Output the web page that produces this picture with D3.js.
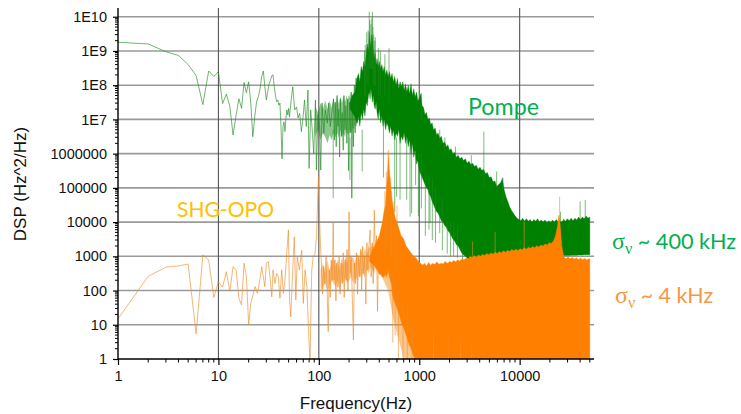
<!DOCTYPE html>
<html><head><meta charset="utf-8">
<script src="https://cdn.jsdelivr.net/npm/d3@7"></script>
<style>body{margin:0;background:#fff}svg{display:block}</style>
</head><body>
<svg id="c" width="741" height="414"></svg>
<script>
// ---------- ticks ----------
const xTicks = [1, 10, 100, 1000, 10000];
const xTickLabels = ["1", "10", "100", "1000", "10000"];
const yTicks = [1, 10, 100, 1000, 1e4, 1e5, 1e6, 1e7, 1e8, 1e9, 1e10];
const yTickLabels = ["1", "10", "100", "1000", "10000", "100000", "1000000", "1E7", "1E8", "1E9", "1E10"];

// ---------- Pompe (green) : [frequency Hz, DSP] ----------
const greenTrace = [
 [1,1.8e9],[2,1.6e9],[3,9.5e8],[4,7.4e8],[5,4e8],[6,1.9e8],[7,2.7e7],[8,2.6e8],[9,1.8e8],[10,2.5e8],
 [11,2.9e7],[12,5.5e7],[13,2.4e7],[14,3.5e6],[15,1.35e7],[16,4e7],[17,2.1e7],[18,1.2e8],[19,6e7],[20,1.25e8],
 [21,3e7],[22,3.1e6],[23,1.2e7],[24,3.3e7],[25,4.6e7],[26,8e7],[27,1.8e8],[28,2.6e8],[29,9e7],[30,3.7e7],
 [31,6.5e7],[32,1.1e8],[33,1.4e8],[34,1.9e8],[35,2e8],[36,9e7],[37,5.1e7],[38,3.3e7],[39,3.7e7],[40,2.6e7],
 [41,3e7],[42,6.2e6],[43,7e5],[44,6.2e6],[45,8.5e6],[46,4.4e6],[47,1.1e7],[48,1.9e7],[49,1.35e7],[50,2.1e7],
 [51,1.2e7],[53,3.7e7],[55,9e7],[57.5,1.9e7],[60,2.3e7],[62,1.1e7],[64.5,1.5e7],[67,4.4e6],[70,1.35e7],[72,3.7e7],
 [75,6.2e6],[78,7.2e7],[80,3.7e5],[83,1.9e7],[85.5,6.2e6],[89,1e6],[92.5,3.7e7],[94.6,3.3e5],[98,1.35e7],[102,6.2e6],
 [104.5,3.3e5],[107.7,3e7],[112,3.9e6],[116,1.9e7],[121.6,7.8e6],[125,3e7],[130,6.2e6],[136,1.9e7],[140,4e7],[143,2.5e6],
 [146,3.2e7],[149,1.6e6],[152,5e7],[155,6.3e6],[158,2e7],[161,8e5],[164,4e7],[168,3.2e6],[171,1.6e7],[175,1.26e6],
 [178,5e7],[182,5e6],[186,2.5e7],[190,2e6],[194,4e7],[198,3.2e5],[202,3.2e7],[206,4e6],[210,6.3e7],[213,5e4],
 [217,2.5e7],[221,1.6e6],[226,1e8],[230,4e6],[235,1.6e8],[240,8e6],[245,1.26e8],[250,1e7]
];
// semi-dense tangle: [frequency, upper, lower]
const greenCore = [
 [92,2.5e7,3e6],[98,1.6e7,5e6],[104,3e7,2.5e6],[110,2e7,4e6],[116,3.5e7,3e6],[122,2e7,2e6],[128,3.5e7,3.5e6],
 [134,2.2e7,2.5e6],[140,4e7,4e6],[146,2.5e7,3e6],[152,4.5e7,4e6],[158,2.8e7,3e6],[164,4.5e7,5e6],[170,3e7,3e6],
 [176,5e7,4e6],[182,3e7,3e6],[188,5e7,5e6],[194,3.5e7,3.5e6],[200,5.5e7,4e6],[206,4e7,5e6],[212,6e7,4e6],
 [218,4.5e7,6e6],[224,7e7,5e6],[230,5e7,7e6],[236,9e7,6e6],[242,8e7,8e6]
];
// dense part: [frequency, upper, lower]
const greenBand = [
 [205,3e7,2e7],[215,5e7,1.6e7],[228,6e7,1.2e7],
 [240,1.6e8,7.9e6],[248,2.2e8,1.26e7],[256,1.26e8,6.3e6],[264,3.5e8,1.6e7],[272,2.5e8,1e7],[280,5e8,2e7],
 [288,3.5e8,1.26e7],[296,8e8,3.2e7],[304,1.6e9,2.5e7],[312,1e9,5e7],[318,3.5e9,6.3e7],[324,2e9,4e7],
 [330,1.3e9,7.9e7],[336,3e9,5e7],[342,2.5e9,3.2e7],[348,1.2e9,5e7],[356,6e8,2.5e7],[364,9e8,2e7],
 [372,4e8,3.2e7],[380,6e8,1.6e7],[390,3.5e8,1e7],[400,5e8,2e7],[412,3e8,7.9e6],[424,4e8,1.26e7],
 [436,2.5e8,6.3e6],[448,3.5e8,1e7],[462,2e8,5e6],[476,2.8e8,7.9e6],[490,1.8e8,6.3e6],[505,2.5e8,4e6],
 [520,1.6e8,6.3e6],[536,2.2e8,3.2e6],[552,1.26e8,5e6],[570,1.8e8,2.5e6],[588,1e8,4e6],[606,1.6e8,3.2e6],
 [625,7.9e7,5e6],[645,1.26e8,2e6],[665,8.9e7,3.2e6],[686,1.26e8,2.5e6],[708,7.1e7,4e6],[730,1.1e8,2e6],
 [753,6.3e7,3.2e6],[777,1e8,1.6e6],[802,5.6e7,2.5e6],[828,1.1e8,1e6],[855,5e7,2e6],[882,7.9e7,7.9e5],
 [910,4.5e7,1.26e6],[940,6.3e7,5e5],[970,3.5e7,6.3e5],[1000,4e7,3.2e5],[1035,5.6e7,2.5e5],[1070,2.5e7,2e5],
 [1105,2.2e7,1.6e5],[1140,1.4e7,1.26e5],[1180,1.6e7,1e5],[1220,1e7,8.9e4],[1260,1.1e7,6.3e4],[1300,7.1e6,5.6e4],
 [1345,7.9e6,4e4],[1390,5e6,3.2e4],[1440,5.6e6,2.5e4],[1490,3.5e6,2e4],[1540,4e6,1.8e4],[1600,2.8e6,1.4e4],
 [1660,3.2e6,1.1e4],[1720,2e6,1e4],[1790,2.2e6,7.9e3],[1860,1.6e6,7.1e3],[1930,1.8e6,5.6e3],[2000,1.26e6,5e3],
 [2080,1.4e6,4e3],[2160,1e6,3.2e3],[2250,1.1e6,2.8e3],[2340,7.9e5,2.2e3],[2440,8.9e5,2e3],[2540,7.1e5,1.6e3],
 [2650,7.9e5,1.26e3],[2760,6.3e5,1.1e3],[2880,7.1e5,1e3],[3000,5.2e5,890],[3130,6e5,800],[3260,4.8e5,800],
 [3400,5.2e5,700],[3550,4.2e5,700],[3700,4.6e5,700],[3860,3.5e5,700],[4030,4e5,700],[4200,3.2e5,700],
 [4380,3.5e5,700],[4570,2.6e5,700],[4770,2.8e5,700],[4980,2e5,700],[5200,2.1e5,700],[5430,1.5e5,700],
 [5670,1.6e5,700],[5920,1.1e5,700],[6180,1.26e5,700],[6450,1.4e5,700],[6730,1.9e5,700],[7000,8.9e4,700],
 [7300,5.6e4,700],[7620,4e4,800],[7950,2.8e4,800],[8300,2.2e4,900],[8660,1.8e4,900],[9040,1.5e4,1000],
 [9430,1.3e4,1000],[9840,1.2e4,1000],[10270,1.1e4,1000],[10720,1.3e4,1000],[11190,1.05e4,1000],[11680,1.25e4,1000],
 [12190,1.05e4,1000],[12720,1.2e4,1000],[13270,1e4,1000],[13850,1.2e4,1000],[14460,1.05e4,1000],[15090,1.25e4,1000],
 [15750,1.02e4,1000],[16440,1.15e4,1000],[17160,1e4,1000],[17910,1.15e4,1000],[18690,9.5e3,1000],[19510,1.1e4,1000],
 [20360,9.8e3,1000],[21250,1.15e4,1000],[22180,1e4,1000],[23150,1.2e4,1000],[24160,1e4,1000],[25210,1.1e4,1000],
 [26310,1e4,1050],[27460,1.2e4,1050],[28660,1.05e4,1050],[29910,1.25e4,1050],[31220,1.1e4,1050],[32580,1.3e4,1070],
 [34000,1.1e4,1070],[35490,1.3e4,1070],[37040,1.15e4,1070],[38660,1.4e4,1100],[40350,1.2e4,1100],[42110,1.4e4,1100],
 [43950,1.25e4,1120],[45870,1.5e4,1120],[47870,1.3e4,1120],[50000,1.4e4,1120]
];
// isolated spikes: [frequency, from, to]
const greenSpikes = [
 [285,5e7,1e9],[290,5e7,1.5e9],[300,1e8,3.5e9],[310,1e8,4e9],[318,3e8,1.4e10],[322,3e8,8e9],[330,3e8,6e9],
 [336,3e8,9e9],[342,3e8,1.4e10],[346,3e8,5e9],[352,1e8,3e9],[360,1e8,2e9],[365,1e8,2.5e9],[392,5e7,1.2e9],
 [410,5e7,1e9],[455,5e7,8e8],[500,3e7,1.2e9],[1050,1e7,5.8e7],[1600,2e6,5e6],[1800,1e6,3e6],[2300,7e5,1.6e6],
 [3300,4e5,9e5],[4400,1e5,4.4e6],[5900,1e5,3e5],[6800,3e4,2e5],[11000,5e3,1.15e4],[25500,1e4,2e4],
 [40000,1e4,4e4],[45000,1e4,4.4e4],[139,5e6,5e4],[204,3e6,1.7e5],[270,5e6,3e5],[440,1e7,2e5],[570,3e6,2e4],
 [595,3e6,5.5e4],[644,3e6,4.5e4],[750,3e6,4.5e4],[810,2e6,1.45e4],[840,2e6,1.8e4],[920,1e6,1.2e5],[980,1e6,1.5e4],
 [1050,1e6,2.5e4],[1150,3e5,4e3],[1250,2e5,6e3],[1280,6e4,9.3e3],[1350,2e5,3e3],[1450,1e5,2.5e3],[1600,2e4,4.7e3],
 [1700,5e4,1.5e3],[1900,1e4,1.2e3],[2050,1e4,1e3],[2200,1e4,1e3],[2400,8e3,900],[2700,2e3,630]
];

// ---------- SHG-OPO (orange) ----------
const orangeTrace = [
 [1,15],[2,260],[3,480],[4,525],[5,590],[6,5.4],[7,1100],[8,780],[9,63],[10,180],
 [11,125],[12,355],[13,95],[14,500],[15,400],[16,59],[17,38],[18,630],[19,250],[20,10],
 [21,42],[22.3,83],[23.2,130],[24.5,83],[26,230],[27,500],[28,250],[29,130],[30,630],[31.4,700],
 [32.6,250],[34,66],[35,400],[36.6,160],[38,320],[39.5,250],[41,60],[42.7,400],[44.3,83],[46,200],
 [47.9,1200],[49.8,5900],[51,66],[52.5,17],[55,400],[57,3700],[59,53],[61,980],[64,400],[67.5,1500],
 [70,42],[73,400],[76,130],[78.7,8.7],[81.7,0.8],[85,400],[88,980],[91.6,1200],[95,4200],[99,2.1e5],
 [103,4000],[106,630],[109,79],[112,500],[115,160],[118,1000],[121,100],[124,6.3],[127,400],[130,63],
 [133,790],[136,200],[139,1e4],[142,200],[145,790],[148,50],[151,630],[155,126],[159,1000],[163,79],
 [167,630],[171,160],[175,1260],[179,63],[183,790],[187,200],[191,1600],[195,100],[200,2e4],[205,320],
 [210,1000],[215,79],[221,3.6],[226,630],[231,160],[237,1260],[243,79],[249,1000],[255,250],[261,1600],
 [267,100],[273,2000],[280,320],[287,1000],[294,40],[301,2500],[308,400],[316,2000],[324,5900],[332,250],
 [340,2500],[348,160],[357,2.2e4],[366,630],[375,4000],[384,25],[394,3200],[404,400]
];
const orangeCore = [
 [104,400,100],[110,630,126],[116,320,160],[122,790,100],[128,400,126],[134,630,200],[140,1000,160],
 [147,500,126],[154,790,200],[161,400,100],[168,890,200],[176,500,160],[184,1000,250],[192,630,160],
 [200,1260,200],[210,790,250],[220,1000,160],[230,630,250],[240,1260,200],[252,790,320],[264,1580,250],
 [276,1000,320],[288,1780,250],[300,1120,400],[314,2000,320],[328,1580,500],[342,2500,400],[356,1780,320],
 [370,3200,500],[385,2000,400],[402,4000,320],[440,1e4,200],[490,3e4,100],[540,1e4,20],[580,2000,8],
 [620,1000,4],[660,800,2],[700,600,1],[750,500,0.6],[800,400,0.5],[860,300,0.5],[930,200,0.5],[1000,100,0.5]
];
const orangeBand = [
 [320,900,700],[340,1500,600],[360,2000,500],[380,2800,400],
 [400,4000,300],[415,6300,300],[430,1e4,250],[445,2e4,250],[460,3e4,300],[470,8e4,250],[480,2e5,300],
 [487,5e5,320],[492,1.26e6,400],[498,6e5,300],[505,3e5,250],[515,1.5e5,200],[528,6e4,150],[540,4e4,80],
 [560,2e4,50],[580,1.26e4,40],[600,1e4,30],[630,6300,20],[660,4000,12],[700,3200,8],[740,2000,5],
 [780,1600,3],[830,1260,2],[880,1000,1.2],[930,890,0.8],[980,710,0.5],[1030,630,0.3],[1080,560,0.3],
 [1130,630,0.3],[1180,525,0.3],[1240,660,0.3],[1300,550,0.3],[1360,630,0.3],[1395,600,0.3],[1400,580,12],
 [1405,600,0.3],[1430,575,0.3],[1500,690,0.3],[1570,590,0.3],[1650,630,0.3],[1730,600,0.3],[1810,710,0.3],
 [1900,630,0.3],[1945,650,0.3],[1950,650,8],[1955,650,0.3],[2000,720,0.3],[2100,660,0.3],[2200,760,0.3],
 [2310,690,0.3],[2420,790,0.3],[2540,720,0.3],[2590,800,0.3],[2600,800,6],[2610,800,0.3],[2660,830,0.3],
 [2790,790,0.3],[2930,890,0.3],[3070,830,0.3],[3220,1000,0.3],[3290,950,0.3],[3300,950,5],[3310,950,0.3],
 [3380,910,0.3],[3540,1050,0.3],[3710,950,0.3],[3890,1100,0.3],[4080,1000,0.3],[4280,1150,0.3],[4490,1050,0.3],
 [4710,1200,0.3],[4940,1120,0.3],[5180,1260,0.3],[5430,1150,0.3],[5700,1320,0.3],[5980,1200,0.3],[6000,1200,4],
 [6020,1200,0.3],[6270,1380,0.3],[6580,1260,0.3],[6900,1450,0.3],[7240,1320,0.3],[7590,1510,0.3],[7960,1380,0.3],
 [8350,1580,0.3],[8760,1450,0.3],[9190,1620,0.3],[9640,1480,0.3],[10110,1660,0.3],[10600,1550,0.3],[11120,1780,0.3],
 [11660,1620,0.3],[12230,1860,0.3],[12830,1700,0.3],[13460,1950,0.3],[14120,1780,0.3],[14810,2040,0.3],[15530,1860,0.3],
 [16290,2140,0.3],[17090,2000,0.3],[17920,2290,0.3],[18800,2140,0.3],[19720,2500,0.3],[20690,2400,0.3],[21700,2800,0.3],
 [22760,4000,0.3],[23870,7900,0.3],[24500,1.6e4,0.3],[25040,1.26e4,0.3],[25700,5000,0.3],[26270,2000,0.3],[27560,950,0.3],
 [28900,870,0.3],[30320,950,0.3],[31800,850,0.3],[33360,930,0.3],[35000,830,0.3],[36710,910,0.3],[38500,810,0.3],
 [40390,890,0.3],[42360,790,0.3],[44430,870,0.3],[46610,780,0.3],[48890,850,0.3],[50000,830,0.3]
];
const orangeSpikes = [
 [455,1e3,8e4],[470,2e3,3e5],[520,1e3,2e5],[530,1e3,8e4],[560,500,4e4],[600,300,3e4],
 [545,300,3],[575,200,5],[620,100,1],[690,60,0.8],[760,30,0.5],[850,10,0.5],
 [3400,800,2700],[5700,1000,5200],[11100,1000,1e4],[25000,1e4,5.5e4]
];

// ---------- drawing ----------
const svg = d3.select("#c");
const x = d3.scaleLog().domain([1, 55000]).range([118, 594]);
const y = d3.scaleLog().domain([1, 1.8e10]).range([359, 8]);
const [px0, px1] = x.range();
const [py1, py0] = y.range();

svg.append("defs").append("clipPath").attr("id", "plot")
  .append("rect").attr("x", px0).attr("y", py0).attr("width", px1 - px0).attr("height", py1 - py0);

// grid
svg.append("g").selectAll("line").data(yTicks.slice(1)).join("line")
  .attr("x1", px0).attr("x2", px1).attr("y1", d => y(d)).attr("y2", d => y(d))
  .attr("stroke", "#9a9a9a").attr("stroke-width", 1.6);
svg.append("g").selectAll("line").data(xTicks.slice(1)).join("line")
  .attr("x1", d => x(d)).attr("x2", d => x(d)).attr("y1", py0).attr("y2", py1)
  .attr("stroke", "#555").attr("stroke-width", 1.1);

const plot = svg.append("g").attr("clip-path", "url(#plot)");
const line = d3.line().x(d => x(d[0])).y(d => y(d[1]));
const area = d3.area().x(d => x(d[0])).y0(d => y(d[2])).y1(d => y(d[1]));

function series(trace, core, band, spikes, col, traceCol) {
  plot.append("path").datum(core).attr("d", area).attr("fill", col).attr("fill-opacity", 0.45);
  plot.append("path").datum(trace).attr("d", line).attr("fill", "none")
    .attr("stroke", traceCol).attr("stroke-width", 0.9).attr("stroke-opacity", 0.7);
  plot.append("path").datum(band).attr("d", area).attr("fill", col).attr("stroke", col)
    .attr("stroke-width", 0.6).attr("stroke-opacity", 0.6);
  plot.append("g").selectAll("line").data(spikes).join("line")
    .attr("x1", d => x(d[0])).attr("x2", d => x(d[0]))
    .attr("y1", d => y(d[1])).attr("y2", d => y(d[2]))
    .attr("stroke", traceCol).attr("stroke-width", 0.9).attr("stroke-opacity", 0.65);
}
series(greenTrace, greenCore, greenBand, greenSpikes, "#008000", "#1d8a1d");
series(orangeTrace, orangeCore, orangeBand, orangeSpikes, "#ff8000", "#ec8a24");

// axes
const font = "'Liberation Sans', Arial, sans-serif";
const yAxis = d3.axisLeft(y).tickValues(yTicks).tickSize(5).tickSizeOuter(0).tickPadding(6)
  .tickFormat((d, i) => yTickLabels[i]);
const gy = svg.append("g").attr("transform", `translate(${px0},0)`).call(yAxis);
const xAxis = d3.axisBottom(x).tickValues(xTicks).tickSize(6).tickSizeOuter(0).tickPadding(6)
  .tickFormat((d, i) => xTickLabels[i]);
const gx = svg.append("g").attr("transform", `translate(0,${py1})`).call(xAxis);
[gx, gy].forEach(g => {
  g.select(".domain").attr("stroke", "#000").attr("stroke-width", 1.4);
  g.selectAll(".tick line").attr("stroke", "#000").attr("stroke-width", 1.2);
  g.selectAll("text").attr("font-family", font).attr("font-size", 14.5).attr("fill", "#111");
});
gy.select(".domain").attr("d", `M0,${py0}V${py1}`);
gx.select(".domain").attr("d", `M${px0},0H${px1}`);

// minor ticks
const minorX = [], minorY = [];
for (let e = 0; e < 5; e++) for (let k = 2; k <= 9; k++) { const v = k * Math.pow(10, e); if (v <= 55000) minorX.push(v); }
for (let e = 0; e < 11; e++) for (let k = 2; k <= 9; k++) { const v = k * Math.pow(10, e); if (v <= 1.8e10) minorY.push(v); }
svg.append("g").selectAll("line").data(minorX).join("line")
  .attr("x1", d => x(d)).attr("x2", d => x(d)).attr("y1", py1).attr("y2", py1 + 3.5)
  .attr("stroke", "#000").attr("stroke-width", 1);
svg.append("g").selectAll("line").data(minorY).join("line")
  .attr("x1", px0 - 3).attr("x2", px0).attr("y1", d => y(d)).attr("y2", d => y(d))
  .attr("stroke", "#000").attr("stroke-width", 1);

// axis titles
svg.append("text").attr("x", (px0 + px1) / 2).attr("y", 409).attr("text-anchor", "middle")
  .attr("font-family", font).attr("font-size", 17).attr("fill", "#111").text("Frequency(Hz)");
svg.append("text").attr("transform", "translate(26,184) rotate(-90)").attr("text-anchor", "middle")
  .attr("font-family", font).attr("font-size", 17).attr("fill", "#111").text("DSP (Hz^2/Hz)");

// annotations
const tfont = "Lato, 'Open Sans', sans-serif";
svg.append("text").attr("x", 468).attr("y", 115).attr("font-family", tfont).attr("font-size", 23)
  .attr("fill", "#00b050").attr("textLength", 71).attr("lengthAdjust", "spacingAndGlyphs").text("Pompe");
svg.append("text").attr("x", 177).attr("y", 217).attr("font-family", tfont).attr("font-size", 21.5)
  .attr("fill", "#ffc000").attr("textLength", 97).attr("lengthAdjust", "spacingAndGlyphs").text("SHG-OPO");

function sigma(xp, yp, rest, len, col) {
  const t = svg.append("text").attr("x", xp).attr("y", yp).attr("fill", col);
  t.append("tspan").attr("font-family", "'Liberation Serif', serif").attr("font-size", 24).text("σ");
  t.append("tspan").attr("font-family", "'Liberation Serif', serif").attr("font-size", 16).attr("dy", 5).text("ν");
  t.append("tspan").attr("font-family", tfont).attr("font-size", 22).attr("dy", -5)
    .attr("textLength", len).attr("lengthAdjust", "spacingAndGlyphs").text(rest);
}
sigma(612, 249, " ~ 400 kHz", 104, "#00b050");
sigma(615, 303, " ~ 4 kHz", 78, "#f79646");
</script>
</body></html>
